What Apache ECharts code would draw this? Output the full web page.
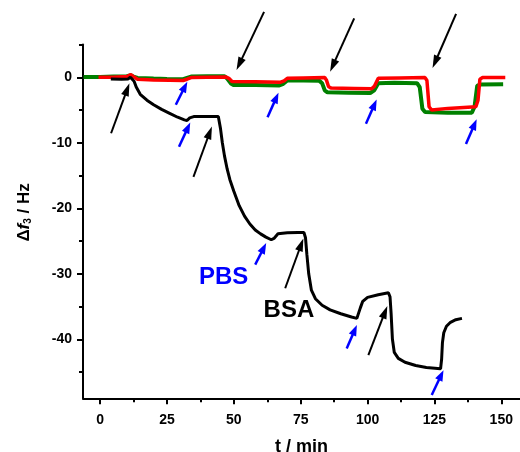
<!DOCTYPE html>
<html>
<head>
<meta charset="utf-8">
<script src="https://cdn.jsdelivr.net/npm/echarts@6/dist/echarts.min.js"></script>
<style>
html,body{margin:0;padding:0;background:#fff;}
#chart{width:520px;height:452px;}
</style>
</head>
<body>
<div id="chart"></div>
<script>
// ---------- data ----------
const xMajorTicks = [0, 25, 50, 75, 100, 125, 150];
const xMinorTicks = [12.5, 37.5, 62.5, 87.5, 112.5, 137.5];
const yMajorTicks = [0, -10, -20, -30, -40];
const yMinorTicks = [5, -5, -15, -25, -35, -45];

const greenSeries = [
  [-6.2, 0.05], [0, 0.05], [5, 0.1], [10, 0.15], [11.5, 0.3], [12.5, 0.1], [14, -0.1],
  [20, -0.2], [25, -0.25], [31, -0.3], [32.5, -0.1], [34, 0.1], [40, 0.15], [46.5, 0.15],
  [47.5, -0.2], [49, -1.0], [50, -1.2], [58, -1.2], [67, -1.25], [68.5, -1.0], [70, -0.5],
  [76, -0.5], [82, -0.55], [83, -0.9], [84, -2.0], [85, -2.3], [93, -2.35], [101, -2.4],
  [102.5, -2.0], [104, -0.9], [110, -0.85], [118.5, -0.9], [119.5, -1.5], [120.5, -4.8],
  [121.5, -5.3], [130, -5.4], [139, -5.4], [140, -4.5], [141, -1.3], [142, -1.1], [150.7, -1.05]
];
const redSeries = [
  [-0.6, 0], [5, 0], [10, 0.1], [11.5, 0.4], [12.5, 0.1], [14, -0.3], [20, -0.4], [26, -0.45],
  [31, -0.5], [32.5, -0.3], [34, -0.05], [40, 0], [47, 0.05], [47.6, 0.35], [48.3, -0.2],
  [49.3, -0.65], [58, -0.7], [67.5, -0.75], [68.8, -0.55], [70, -0.15], [76, -0.1], [84, -0.05],
  [84.6, -0.4], [85.4, -1.4], [86.3, -1.65], [95, -1.7], [101.5, -1.75], [102.5, -1.4],
  [104, -0.15], [112, -0.1], [121.5, -0.05], [122.2, -0.5], [123, -4.5], [124, -5.0],
  [130, -4.75], [140.5, -4.5], [141.3, -3.5], [142, -0.3], [143, -0.05], [151.5, -0.05]
];
const blackSeries = [
  [4, -0.25], [8, -0.3], [10.5, -0.25], [11.3, 0], [12, -0.1], [12.7, -0.6], [13.5, -1.5],
  [15, -2.6], [17.5, -3.5], [20, -4.2], [23, -4.9], [26, -5.5], [29, -6.1], [31.5, -6.5],
  [32.5, -6.6], [33.5, -6.2], [35, -6.0], [40, -6.0], [44.2, -6.0], [45, -7.8], [45.7, -10],
  [46.5, -12], [47.5, -14], [48.5, -15.6], [50, -17.4], [52, -19.6], [54, -21.2], [56, -22.4],
  [58, -23.3], [60, -23.9], [62, -24.4], [64, -24.8], [65, -24.6], [66.5, -23.9], [70, -23.75],
  [74, -23.7], [76.2, -23.7], [76.8, -24.5], [77.3, -27], [78, -30], [79, -32.5], [80.5, -33.8],
  [83, -34.8], [86, -35.5], [90, -36.1], [94, -36.6], [96, -36.8], [96.7, -36.5], [97.3, -35.2],
  [98.2, -34.2], [100, -33.6], [104, -33.2], [107.8, -32.9], [108.4, -33.5], [108.8, -36],
  [109.3, -40], [110, -42], [111.5, -42.9], [114, -43.5], [118, -44.0], [122, -44.3],
  [127.3, -44.5], [127.7, -43], [128, -40.5], [128.5, -39], [129.5, -38], [131, -37.4],
  [133, -37.0], [135.3, -36.8]
];

// arrows: [tailX, tailY, tipX, tipY] in data units
const blackArrows = [
  [4.1, -8.55, 10.96, -0.92],
  [34.9, -15.2, 41.8, -7.5],
  [61.3, 9.97, 51.0, 1.1],
  [95.0, 9.0, 86.0, 0.85],
  [133.1, 9.67, 124.3, 1.4],
  [69.2, -32.2, 76.0, -24.6],
  [100.3, -42.4, 107.4, -34.9]
];
const blueArrows = [
  [28.3, -4.2, 32.6, -0.67],
  [29.5, -10.6, 33.7, -6.9],
  [62.6, -6.1, 66.7, -2.35],
  [99.4, -7.1, 103.4, -3.4],
  [136.8, -10.2, 140.8, -6.4],
  [58.0, -28.6, 62.1, -25.3],
  [92.2, -41.4, 96.0, -37.8],
  [124.0, -48.5, 128.4, -44.7]
];
const noteTexts = ['PBS', 'BSA'];
const notePoints = [[46.2, -30.6], [70.6, -35.6]];
const noteColors = ['#0000ff', '#000000'];

// ---------- chart ----------
const FONT = '"Liberation Sans", Arial, sans-serif';
const chart = echarts.init(document.getElementById('chart'), null, {renderer: 'canvas'});

function arrowRender(color, headLen, headW, lw) {
  return function (params, api) {
    const p1 = api.coord([api.value(0), api.value(1)]);
    const p2 = api.coord([api.value(2), api.value(3)]);
    const dx = p2[0] - p1[0], dy = p2[1] - p1[1];
    const L = Math.hypot(dx, dy);
    const ux = dx / L, uy = dy / L;
    const bx = p2[0] - ux * headLen, by = p2[1] - uy * headLen;
    const px = -uy, py = ux;
    return {
      type: 'group',
      children: [
        {type: 'line', shape: {x1: p1[0], y1: p1[1], x2: bx + ux * 2, y2: by + uy * 2},
         style: {stroke: color, lineWidth: lw}},
        {type: 'polygon', shape: {points: [[p2[0], p2[1]],
           [bx + px * headW / 2, by + py * headW / 2],
           [bx - px * headW / 2, by - py * headW / 2]]},
         style: {fill: color}}
      ]
    };
  };
}

const axisLineStyle = {color: '#000', width: 2};

const option = {
  animation: false,
  backgroundColor: '#fff',
  grid: {left: 83, right: 0, top: 44.5, bottom: 53.7, containLabel: false, outerBoundsMode: 'none'},
  xAxis: [{
    type: 'value', min: -6.4, max: 157, position: 'bottom',
    name: 't / min', nameLocation: 'middle', nameGap: 40,
    nameTextStyle: {fontFamily: FONT, fontWeight: 'bold', fontSize: 18, color: '#000'},
    axisLine: {show: true, onZero: false, lineStyle: axisLineStyle},
    axisTick: {show: true, inside: false, length: 6, customValues: xMajorTicks, lineStyle: axisLineStyle},
    axisLabel: {show: true, customValues: xMajorTicks, margin: 15, color: '#000',
      fontFamily: FONT, fontWeight: 'bold', fontSize: 14},
    splitLine: {show: false}
  }, {
    type: 'value', min: -6.4, max: 157, position: 'bottom',
    axisLine: {show: false, onZero: false},
    axisTick: {show: true, inside: false, length: 4, customValues: xMinorTicks, lineStyle: axisLineStyle},
    axisLabel: {show: false},
    splitLine: {show: false}
  }],
  yAxis: [{
    type: 'value', min: -49, max: 5, position: 'left',
    name: '{a|Δ}{b|f}{c|3}{a| / Hz}', nameLocation: 'middle', nameGap: 50,
    nameTextStyle: {fontFamily: FONT, fontWeight: 'bold', fontSize: 17, color: '#000',
      padding: [0, 0, 0, 18],
      rich: {
        a: {fontFamily: FONT, fontWeight: 'bold', fontSize: 17, color: '#000'},
        b: {fontFamily: FONT, fontWeight: 'bold', fontStyle: 'italic', fontSize: 17, color: '#000'},
        c: {fontFamily: FONT, fontWeight: 'bold', fontSize: 10, color: '#000', verticalAlign: 'bottom', padding: [8, 0, 0, 0]}
      }},
    axisLine: {show: true, onZero: false, lineStyle: axisLineStyle},
    axisTick: {show: true, inside: false, length: 6, customValues: yMajorTicks, lineStyle: axisLineStyle},
    axisLabel: {show: true, customValues: yMajorTicks, margin: 11, color: '#000',
      fontFamily: FONT, fontWeight: 'bold', fontSize: 14},
    splitLine: {show: false}
  }, {
    type: 'value', min: -49, max: 5, position: 'left',
    axisLine: {show: false, onZero: false},
    axisTick: {show: true, inside: false, length: 4, customValues: yMinorTicks, lineStyle: axisLineStyle},
    axisLabel: {show: false},
    splitLine: {show: false}
  }],
  series: [
    {type: 'line', data: greenSeries, showSymbol: false, symbol: 'none',
     lineStyle: {color: '#008000', width: 4}, itemStyle: {color: '#008000'}, z: 2},
    {type: 'line', data: redSeries, showSymbol: false, symbol: 'none',
     lineStyle: {color: '#ff0000', width: 3.5}, itemStyle: {color: '#ff0000'}, z: 3},
    {type: 'line', data: blackSeries, showSymbol: false, symbol: 'none',
     lineStyle: {color: '#000000', width: 3}, itemStyle: {color: '#000'}, z: 4},
    {type: 'custom', data: blackArrows, clip: false, z: 5,
     encode: {x: [0, 2], y: [1, 3]},
     renderItem: arrowRender('#000000', 13, 8, 2)},
    {type: 'custom', data: blueArrows, clip: false, z: 5,
     encode: {x: [0, 2], y: [1, 3]},
     renderItem: arrowRender('#0000ff', 11, 8, 2.5)},
    {type: 'custom', data: notePoints, clip: false, z: 6,
     renderItem: function (params, api) {
       const p = api.coord([api.value(0), api.value(1)]);
       return {type: 'text', x: p[0], y: p[1],
         style: {text: noteTexts[params.dataIndex], fill: noteColors[params.dataIndex],
           font: 'bold 24px ' + FONT, textAlign: 'center', textVerticalAlign: 'middle'}};
     }}
  ]
};
chart.setOption(option);
</script>
</body>
</html>
